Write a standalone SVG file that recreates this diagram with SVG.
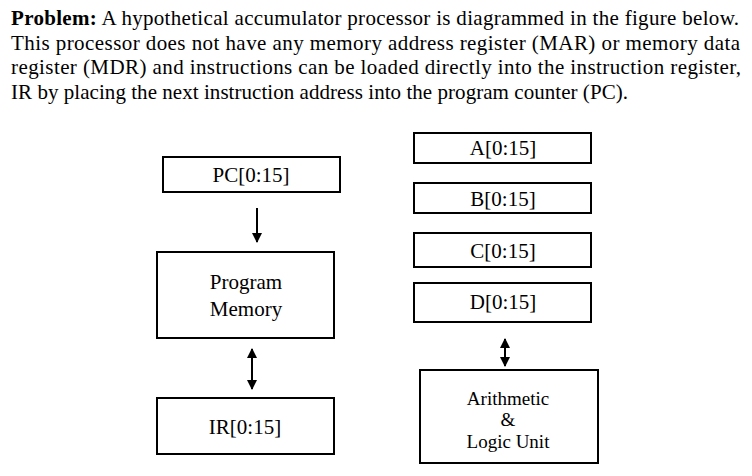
<svg xmlns="http://www.w3.org/2000/svg" width="752" height="476" viewBox="0 0 752 476">
<defs>
<style>
.t{font-family:"Liberation Serif","Times New Roman",serif;font-size:21px;fill:#000}
.s{font-size:19px}
.b{font-weight:bold}
.box{fill:#fff;stroke:#000;stroke-width:2}
.ln{stroke:#000;stroke-width:2;fill:none}
</style>
<marker id="ah" viewBox="0 0 10 10" refX="9" refY="5" markerWidth="5.5" markerHeight="5" orient="auto-start-reverse" markerUnits="strokeWidth">
<path d="M0,0 L10,5 L0,10 z" fill="#000"/>
</marker>
</defs>
<rect width="752" height="476" fill="#fff"/>
<g id="problem-text">
<text class="t" x="11" y="25" textLength="728" lengthAdjust="spacing"><tspan class="b">Problem:</tspan> A hypothetical accumulator processor is diagrammed in the figure below.</text>
<text class="t" x="11" y="50" textLength="729" lengthAdjust="spacing">This processor does not have any memory address register (MAR) or memory data</text>
<text class="t" x="11" y="74" textLength="730" lengthAdjust="spacing">register (MDR) and instructions can be loaded directly into the instruction register,</text>
<text class="t" x="11" y="99" textLength="617" lengthAdjust="spacing">IR by placing the next instruction address into the program counter (PC).</text>
</g>
<g id="pc">
<rect class="box" x="163" y="157" width="177" height="35"/>
<text class="t" x="251" y="182" text-anchor="middle">PC[0:15]</text>
</g>
<g id="program-memory">
<rect class="box" x="157" y="252" width="177" height="86"/>
<text class="t" x="246" y="289" text-anchor="middle">Program</text>
<text class="t" x="246" y="316" text-anchor="middle">Memory</text>
</g>
<g id="ir">
<rect class="box" x="157" y="398" width="177" height="56"/>
<text class="t" x="245" y="434" text-anchor="middle">IR[0:15]</text>
</g>
<g id="reg-a">
<rect class="box" x="414" y="133" width="177" height="30"/>
<text class="t" x="503" y="155" text-anchor="middle">A[0:15]</text>
</g>
<g id="reg-b">
<rect class="box" x="414" y="183" width="177" height="30"/>
<text class="t" x="503" y="206" text-anchor="middle">B[0:15]</text>
</g>
<g id="reg-c">
<rect class="box" x="414" y="233" width="177" height="34"/>
<text class="t" x="503" y="258" text-anchor="middle">C[0:15]</text>
</g>
<g id="reg-d">
<rect class="box" x="414" y="283" width="177" height="39"/>
<text class="t" x="503" y="309" text-anchor="middle">D[0:15]</text>
</g>
<g id="alu">
<rect class="box" x="420" y="370" width="178" height="93"/>
<text class="t s" x="508" y="405" text-anchor="middle">Arithmetic</text>
<text class="t s" x="508" y="426" text-anchor="middle">&amp;</text>
<text class="t s" x="508" y="448" text-anchor="middle">Logic Unit</text>
</g>
<g id="connectors">
<line class="ln" x1="257" y1="208" x2="257" y2="242" marker-end="url(#ah)"/>
<line class="ln" x1="252" y1="349" x2="252" y2="389" marker-start="url(#ah)" marker-end="url(#ah)"/>
<line class="ln" x1="505" y1="339" x2="505" y2="366" marker-start="url(#ah)" marker-end="url(#ah)"/>
</g>
</svg>
